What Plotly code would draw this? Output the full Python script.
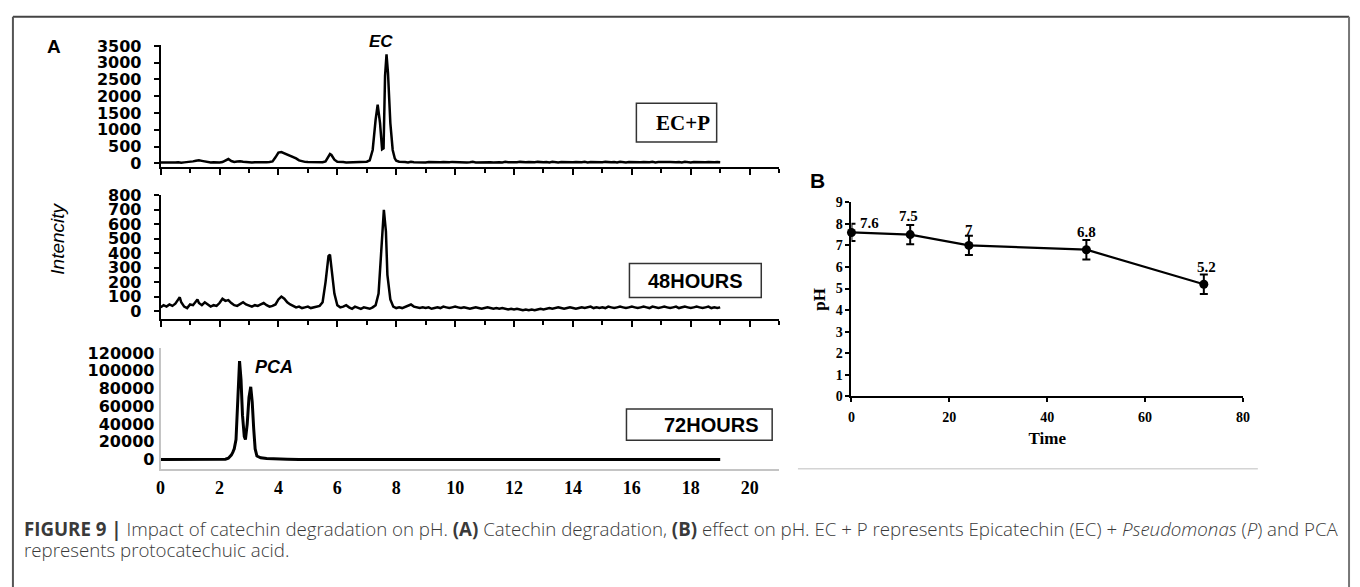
import plotly.graph_objects as go

# ---------------- data ----------------
# Panel A, chromatogram EC+P (retention time, intensity)
ecp_time = [0.0, 0.1, 0.2, 0.3, 0.4, 0.5, 0.6, 0.7, 0.8, 0.9,
            1.0, 1.1, 1.2, 1.3, 1.4, 1.5, 1.6, 1.7, 1.8, 1.9,
            2.0, 2.1, 2.2, 2.3, 2.4, 2.5, 2.6, 2.7, 2.8, 2.9,
            3.0, 3.1, 3.2, 3.3, 3.4, 3.5, 3.6, 3.7, 3.8, 3.9,
            4.0, 4.1, 4.2, 4.3, 4.4, 4.5, 4.6, 4.7, 4.8, 4.9,
            5.0, 5.1, 5.2, 5.3, 5.4, 5.5, 5.6, 5.7, 5.75, 5.8, 5.9,
            6.0, 6.1, 6.2, 6.3, 6.4, 6.5, 6.6, 6.7, 6.8, 6.9,
            7.0, 7.1, 7.2, 7.3, 7.37, 7.45, 7.52, 7.57, 7.62, 7.67, 7.72, 7.8, 7.88, 7.95,
            8.0, 8.1, 8.2, 8.3, 8.4, 8.5, 8.6, 8.7, 8.8, 8.9,
            9.0, 9.1, 9.2, 9.3, 9.4, 9.5, 9.6, 9.7, 9.8, 9.9,
            10.0, 10.1, 10.2, 10.3, 10.4, 10.5, 10.6, 10.7, 10.8, 10.9,
            11.0, 11.1, 11.2, 11.3, 11.4, 11.5, 11.6, 11.7, 11.8, 11.9,
            12.0, 12.1, 12.2, 12.3, 12.4, 12.5, 12.6, 12.7, 12.8, 12.9,
            13.0, 13.1, 13.2, 13.3, 13.4, 13.5, 13.6, 13.7, 13.8, 13.9,
            14.0, 14.1, 14.2, 14.3, 14.4, 14.5, 14.6, 14.7, 14.8, 14.9,
            15.0, 15.1, 15.2, 15.3, 15.4, 15.5, 15.6, 15.7, 15.8, 15.9,
            16.0, 16.1, 16.2, 16.3, 16.4, 16.5, 16.6, 16.7, 16.8, 16.9,
            17.0, 17.1, 17.2, 17.3, 17.4, 17.5, 17.6, 17.7, 17.8, 17.9,
            18.0, 18.1, 18.2, 18.3, 18.4, 18.5, 18.6, 18.7, 18.8, 18.9, 19.0]
ecp_intensity = [30, 25, 35, 20, 30, 25, 35, 20, 30, 40,
                 35, 60, 80, 90, 75, 60, 40, 30, 35, 25,
                 30, 40, 90, 130, 70, 45, 55, 65, 50, 35,
                 30, 25, 35, 30, 40, 30, 35, 40, 60, 180,
                 320, 340, 300, 260, 230, 200, 150, 90, 60, 45,
                 40, 35, 30, 40, 30, 35, 60, 200, 280, 250, 110,
                 50, 35, 40, 30, 35, 30, 40, 35, 45, 40,
                 50, 90, 400, 1300, 1750, 1200, 420, 450, 2600, 3250, 2700, 1200, 400, 150,
                 80, 50, 35, 40, 30, 45, 35, 30, 40, 35,
                 30, 40, 35, 45, 30, 35, 40, 30, 35, 45,
                 40, 30, 35, 40, 30, 35, 45, 30, 35, 40,
                 30, 45, 35, 30, 40, 35, 30, 45, 35, 30,
                 40, 35, 45, 30, 35, 40, 30, 35, 45, 30,
                 35, 40, 30, 45, 35, 30, 40, 35, 30, 45,
                 35, 40, 30, 35, 45, 30, 40, 35, 30, 40,
                 35, 45, 30, 35, 40, 30, 45, 35, 30, 40,
                 35, 30, 45, 35, 40, 30, 35, 45, 30, 40,
                 35, 30, 40, 45, 30, 35, 40, 30, 45, 35,
                 30, 40, 35, 45, 30, 35, 40, 30, 35, 40, 35]

# Panel A, chromatogram after 48 hours
h48_time = [0.0, 0.1, 0.2, 0.3, 0.4, 0.5, 0.6, 0.65, 0.7, 0.8, 0.9,
            1.0, 1.1, 1.2, 1.25, 1.3, 1.4, 1.5, 1.6, 1.7, 1.8, 1.9,
            2.0, 2.1, 2.2, 2.3, 2.4, 2.5, 2.6, 2.7, 2.8, 2.9,
            3.0, 3.1, 3.2, 3.3, 3.4, 3.5, 3.6, 3.7, 3.8, 3.9,
            4.0, 4.1, 4.2, 4.3, 4.4, 4.5, 4.6, 4.7, 4.8, 4.9,
            5.0, 5.1, 5.2, 5.3, 5.4, 5.5, 5.6, 5.7, 5.75, 5.8, 5.9,
            6.0, 6.1, 6.2, 6.3, 6.4, 6.5, 6.6, 6.7, 6.8, 6.9,
            7.0, 7.1, 7.2, 7.3, 7.4, 7.5, 7.58, 7.65, 7.7, 7.8, 7.9,
            8.0, 8.1, 8.2, 8.3, 8.4, 8.5, 8.6, 8.7, 8.8, 8.9,
            9.0, 9.1, 9.2, 9.3, 9.4, 9.5, 9.6, 9.7, 9.8, 9.9,
            10.0, 10.1, 10.2, 10.3, 10.4, 10.5, 10.6, 10.7, 10.8, 10.9,
            11.0, 11.1, 11.2, 11.3, 11.4, 11.5, 11.6, 11.7, 11.8, 11.9,
            12.0, 12.1, 12.2, 12.3, 12.4, 12.5, 12.6, 12.7, 12.8, 12.9,
            13.0, 13.1, 13.2, 13.3, 13.4, 13.5, 13.6, 13.7, 13.8, 13.9,
            14.0, 14.1, 14.2, 14.3, 14.4, 14.5, 14.6, 14.7, 14.8, 14.9,
            15.0, 15.1, 15.2, 15.3, 15.4, 15.5, 15.6, 15.7, 15.8, 15.9,
            16.0, 16.1, 16.2, 16.3, 16.4, 16.5, 16.6, 16.7, 16.8, 16.9,
            17.0, 17.1, 17.2, 17.3, 17.4, 17.5, 17.6, 17.7, 17.8, 17.9,
            18.0, 18.1, 18.2, 18.3, 18.4, 18.5, 18.6, 18.7, 18.8, 18.9, 19.0]
h48_intensity = [25, 40, 30, 45, 35, 50, 80, 95, 60, 30, 20,
                 45, 40, 70, 80, 55, 40, 60, 45, 30, 40, 35,
                 55, 85, 70, 75, 55, 40, 35, 50, 60, 45,
                 35, 30, 40, 35, 45, 55, 40, 30, 35, 45,
                 80, 100, 85, 60, 45, 35, 25, 30, 20, 25,
                 30, 20, 25, 30, 35, 60, 200, 380, 390, 300, 120,
                 40, 25, 30, 40, 25, 15, 30, 20, 15, 25,
                 20, 15, 25, 40, 120, 450, 700, 550, 250, 80, 30,
                 20, 25, 20, 30, 40, 45, 30, 25, 20, 25,
                 20, 25, 15, 20, 25, 20, 30, 25, 20, 25,
                 30, 25, 20, 25, 20, 15, 20, 25, 20, 15,
                 20, 25, 20, 15, 20, 15, 20, 15, 10, 15,
                 10, 15, 10, 5, 10, 5, 10, 5, 10, 15,
                 10, 15, 20, 15, 20, 25, 20, 15, 20, 25,
                 20, 15, 20, 25, 20, 25, 30, 20, 25, 20,
                 25, 20, 30, 25, 20, 25, 30, 25, 20, 25,
                 30, 25, 20, 25, 30, 25, 20, 30, 25, 20,
                 25, 30, 25, 20, 25, 30, 20, 25, 30, 25,
                 20, 25, 30, 25, 20, 25, 30, 20, 25, 20, 25]

# Panel A, chromatogram after 72 hours
h72_time = [0.0, 1.0, 2.0, 2.2, 2.3, 2.4, 2.45, 2.5, 2.56, 2.62, 2.68, 2.73, 2.78, 2.84,
            2.88, 2.94, 3.0, 3.06, 3.11, 3.16, 3.21, 3.27, 3.4, 3.6, 3.9, 4.3, 4.7, 5.0, 19.0]
h72_intensity = [0, 0, 0, 300, 1500, 5000, 8000, 12000, 22600, 60000, 111000, 90000, 50000, 26000,
                 22600, 40000, 70000, 82000, 65000, 35000, 12000, 4000, 2000, 1100, 600, 300, 100, 0, 0]

chrom_xticks = [0, 2, 4, 6, 8, 10, 12, 14, 16, 18, 20]
ecp_yticks = [0, 500, 1000, 1500, 2000, 2500, 3000, 3500]
h48_yticks = [0, 100, 200, 300, 400, 500, 600, 700, 800]
h72_yticks = [0, 20000, 40000, 60000, 80000, 100000, 120000]
h72_yticktext = ["0", "20000", "40000", "60000", "80000", "100000", "120000"]

# Panel B, pH over time
ph_time = [0, 12, 24, 48, 72]
ph_value = [7.6, 7.5, 7.0, 6.8, 5.2]
ph_error = [0.4, 0.45, 0.45, 0.45, 0.45]
ph_labels = ["7.6", "7.5", "7", "6.8", "5.2"]
ph_xticks = [0, 20, 40, 60, 80]
ph_yticks = [0, 1, 2, 3, 4, 5, 6, 7, 8, 9]

# ---------------- layout helpers ----------------
W, H = 1360, 587


def px(x):
    return x / W


def py(y):
    return 1 - y / H


SANS_BOLD = dict(family="DejaVu Sans", size=16, color="black", weight="bold")
SERIF_BOLD = dict(family="Liberation Serif", size=14, color="black", weight="bold")

fig = go.Figure()

line_style = dict(color="black", width=2.5)
fig.add_trace(go.Scatter(x=ecp_time, y=ecp_intensity, mode="lines", line=line_style,
                         xaxis="x", yaxis="y", showlegend=False, hoverinfo="skip"))
fig.add_trace(go.Scatter(x=h48_time, y=h48_intensity, mode="lines", line=line_style,
                         xaxis="x2", yaxis="y2", showlegend=False, hoverinfo="skip"))
fig.add_trace(go.Scatter(x=h72_time, y=h72_intensity, mode="lines",
                         line=dict(color="black", width=3),
                         xaxis="x3", yaxis="y3", showlegend=False, hoverinfo="skip"))
fig.add_trace(go.Scatter(x=ph_time, y=ph_value, mode="lines+markers",
                         line=dict(color="black", width=2.2),
                         marker=dict(color="black", size=9),
                         error_y=dict(type="data", array=ph_error, color="black", thickness=2, width=4),
                         cliponaxis=False,
                         xaxis="x4", yaxis="y4", showlegend=False, hoverinfo="skip"))

chrom_x_common = dict(range=[0, 21], showgrid=False, zeroline=False, showline=True,
                      linecolor="black", linewidth=2, ticks="outside", tick0=0, dtick=2,
                      ticklen=6, tickwidth=2, tickcolor="black", showticklabels=False,
                      minor=dict(dtick=1, tick0=0, ticks="outside", ticklen=4, tickwidth=2,
                                 tickcolor="black", showgrid=False))
chrom_y_common = dict(showgrid=False, zeroline=False, showline=True, linecolor="black",
                      linewidth=2, ticks="outside", ticklen=5, tickwidth=2, tickcolor="black",
                      tickfont=SANS_BOLD, ticklabelstandoff=9)

fig.update_layout(
    width=W, height=H,
    margin=dict(l=0, r=0, t=0, b=0),
    paper_bgcolor="white", plot_bgcolor="rgba(0,0,0,0)",
    xaxis=dict(domain=[px(157), px(781)], anchor="y", **chrom_x_common),
    yaxis=dict(domain=[py(163), py(37)], anchor="x", range=[-116, 3530],
               tickvals=ecp_yticks, **chrom_y_common),
    xaxis2=dict(domain=[px(157), px(781)], anchor="y2", **chrom_x_common),
    yaxis2=dict(domain=[py(319), py(191.7)], anchor="x2", range=[-54, 802],
                tickvals=h48_yticks, **chrom_y_common),
    xaxis3=dict(domain=[px(157), px(781)], anchor="y3", range=[0, 21], showgrid=False,
                zeroline=False, showline=True, linecolor="#c4c4c4", linewidth=2, ticks="",
                tickvals=chrom_xticks, tickfont=dict(family="Liberation Serif", size=18,
                                                     color="black", weight="bold"),
                ticklabelstandoff=2),
    yaxis3=dict(domain=[py(473.3), py(349.3)], anchor="x3", range=[-10200, 125500],
                showgrid=False, zeroline=False, showline=True, linecolor="#c4c4c4",
                linewidth=2, ticks="", tickvals=h72_yticks, ticktext=h72_yticktext,
                tickfont=SANS_BOLD, ticklabelstandoff=1),
    xaxis4=dict(domain=[px(854), px(1249)], anchor="y4", range=[0, 80], showgrid=False,
                zeroline=False, showline=True, linecolor="black", linewidth=2,
                ticks="outside", ticklen=4, tickwidth=2, tickcolor="black",
                tickvals=ph_xticks, tickfont=SERIF_BOLD, ticklabelstandoff=3,
                title=dict(text="Time", font=dict(family="Liberation Serif", size=17,
                                                  color="black", weight="bold"), standoff=8)),
    yaxis4=dict(domain=[py(399), py(199)], anchor="x4", range=[0, 9], showgrid=False,
                zeroline=False, showline=True, linecolor="black", linewidth=2,
                ticks="outside", ticklen=4, tickwidth=2, tickcolor="black",
                tickvals=ph_yticks, tickfont=SERIF_BOLD,
                title=dict(text="pH", font=dict(family="Liberation Serif", size=17,
                                                color="black", weight="bold"), standoff=6)),
)

annotations = []
# value labels on panel B
label_shift = [(18, 9), (-2, 19), (0, 15), (0, 18), (3, 17)]
for t, v, lab, (dx, dy) in zip(ph_time, ph_value, ph_labels, label_shift):
    annotations.append(dict(x=t, y=v, xref="x4", yref="y4", text=lab, showarrow=False,
                            xshift=dx, yshift=dy,
                            font=dict(family="Liberation Serif", size=15, color="black",
                                      weight="bold")))


def txt(x, y, text, font, **kw):
    d = dict(x=px(x), y=py(y), xref="paper", yref="paper", text=text, showarrow=False,
             font=font, xanchor="center", yanchor="middle")
    d.update(kw)
    annotations.append(d)


ARIAL_B = dict(family="Liberation Sans", color="black", weight="bold")
txt(49, 39, "A", dict(ARIAL_B, size=19))
txt(820, 177, "B", dict(ARIAL_B, size=21))
txt(379, 33, "<i>EC</i>", dict(ARIAL_B, size=17))
txt(271, 369, "<i>PCA</i>", dict(ARIAL_B, size=18))
txt(53, 237, "<i>Intencity</i>", dict(family="Liberation Sans", size=19, color="black"),
    textangle=-90)
txt(684, 117, "EC+P", dict(family="Liberation Serif", size=21, color="black", weight="bold"))
txt(696, 280, "48HOURS", dict(ARIAL_B, size=20))
txt(712, 428, "72HOURS", dict(ARIAL_B, size=20))

CAP = dict(family="Open Sans", size=18.7, color="#3a3a3a", weight=300)
txt(17, 535,
    "<b>FIGURE 9 |</b> Impact of catechin degradation on pH. <b>(A)</b> Catechin degradation, "
    "<b>(B)</b> effect on pH. EC + P represents Epicatechin (EC) + <i>Pseudomonas</i> "
    "(<i>P</i>) and PCA", CAP, xanchor="left")
txt(17, 557, "represents protocatechuic acid.", CAP, xanchor="left")

fig.update_layout(annotations=annotations)

shapes = []


def box(x0, y0, x1, y1, color="#333333", width=1.5):
    shapes.append(dict(type="rect", xref="paper", yref="paper", x0=px(x0), x1=px(x1),
                       y0=py(y1), y1=py(y0), line=dict(color=color, width=width)))


def hline(x0, x1, y, color, width):
    shapes.append(dict(type="line", xref="paper", yref="paper", x0=px(x0), x1=px(x1),
                       y0=py(y), y1=py(y), line=dict(color=color, width=width)))


def vline(x, y0, y1, color, width):
    shapes.append(dict(type="line", xref="paper", yref="paper", x0=px(x), x1=px(x),
                       y0=py(y0), y1=py(y1), line=dict(color=color, width=width)))


box(637, 97, 718, 137)
box(630, 262, 763, 297)
box(627, 412, 774, 444)
hline(800, 1264, 473.5, "#d4d4d4", 1.5)
hline(8, 1356, 8, "#444444", 2)
vline(8, 8, 600, "#555555", 2)
vline(1356, 8, 600, "#777777", 2)

fig.update_layout(shapes=shapes)

fig.write_html("out.html")
